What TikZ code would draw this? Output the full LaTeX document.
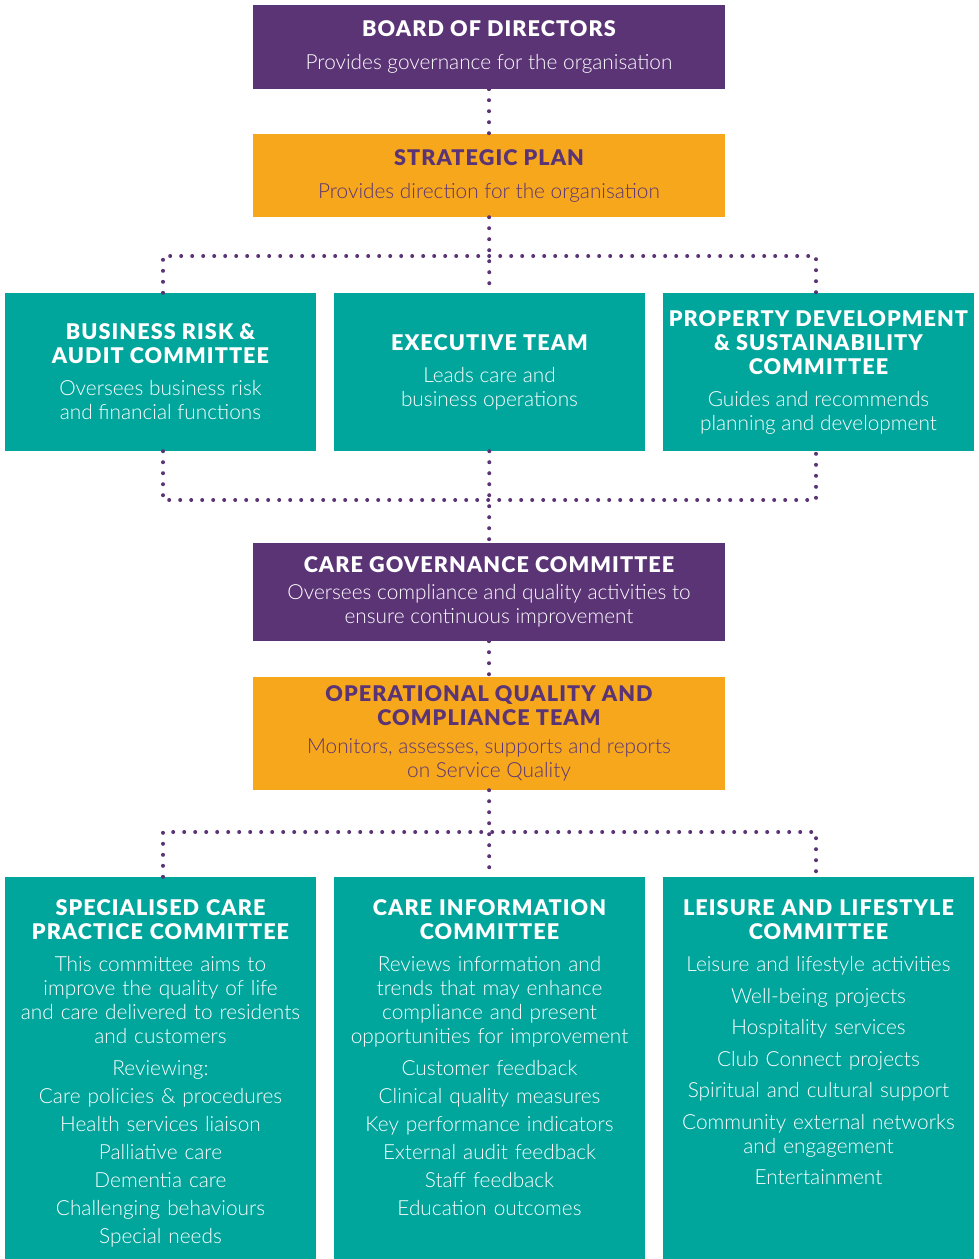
\documentclass[tikz,border=0pt]{standalone}
\usepackage{fontspec}
\setmainfont{Lato Light}
\newfontfamily\headfont{Lato Black}[LetterSpace=5]
\usetikzlibrary{positioning}

\definecolor{cgpurple}{RGB}{91,52,118}
\definecolor{cgorange}{RGB}{246,167,28}
\definecolor{cgteal}{RGB}{0,166,156}

\newcommand*{\hd}[1]{{\headfont\fontsize{21.6}{24}\selectfont #1}}

\begin{document}
\begin{tikzpicture}
[
	x=1pt,y=-1pt,
	box/.style={rectangle,inner sep=0pt,align=center,minimum width=472pt,
		font=\fontsize{20.8}{24}\selectfont},
	purplebox/.style={box,fill=cgpurple,text=white},
	orangebox/.style={box,fill=cgorange,text=cgpurple},
	tealbox/.style={box,fill=cgteal,text=white,minimum width=311pt},
	listtext/.style={align=center,inner sep=0pt,text=white,text width=305pt,
		font=\fontsize{20.8}{24}\selectfont},
	dotline/.style={cgpurple,line width=4pt,line cap=round,dash pattern=on 0pt off 11pt}
]
	\useasboundingbox (0,0) rectangle (978,1259);

	% top of the chart
	\node[purplebox,minimum height=84pt] (board) at (489,47)
		{\hd{BOARD OF DIRECTORS}\\[9pt]Provides governance for the organisation};
	\node[orangebox,minimum height=83pt] (plan) at (489,175.5)
		{\hd{STRATEGIC PLAN}\\[9pt]Provides direction for the organisation};

	% committees under the plan
	\node[tealbox,minimum height=158pt] (risk) at (160.5,372)
		{\hd{BUSINESS RISK \&}\\\hd{AUDIT COMMITTEE}\\[8pt]Oversees business risk\\and financial functions};
	\node[tealbox,minimum height=158pt] (exec) at (489.5,372)
		{\hd{EXECUTIVE TEAM}\\[8pt]Leads care and\\business operations};
	\node[tealbox,minimum height=158pt] (property) at (818.5,372)
		{\hd{PROPERTY DEVELOPMENT}\\\hd{\& SUSTAINABILITY}\\\hd{COMMITTEE}\\[8pt]Guides and recommends\\planning and development};

	% care governance
	\node[purplebox,minimum height=98pt] (caregov) at (489,592)
		{\hd{CARE GOVERNANCE COMMITTEE}\\[3pt]Oversees compliance and quality activities to\\ensure continuous improvement};
	\node[orangebox,minimum height=113pt] (operational) at (489,733.5)
		{\hd{OPERATIONAL QUALITY AND}\\\hd{COMPLIANCE TEAM}\\[4pt]Monitors, assesses, supports and reports\\on Service Quality};

	% bottom committees
	\node[tealbox,minimum height=382pt] (specialised) at (160.5,1068) {};
	\node[tealbox,minimum height=382pt] (information) at (489.5,1068) {};
	\node[tealbox,minimum height=382pt] (leisure) at (818.5,1068) {};

	\node[listtext,anchor=north] (specialisedtext) at ([yshift=-23pt]specialised.north)
		{\hd{SPECIALISED CARE}\\\hd{PRACTICE COMMITTEE}\\[8pt]
		This committee aims to\\improve the quality of life\\and care delivered to residents\\and customers\\[8pt]
		Reviewing:\\[4pt]Care policies \& procedures\\[4pt]Health services liaison\\[4pt]
		Palliative care\\[4pt]Dementia care\\[4pt]Challenging behaviours\\[4pt]Special needs};
	\node[listtext,anchor=north] (informationtext) at ([yshift=-23pt]information.north)
		{\hd{CARE INFORMATION}\\\hd{COMMITTEE}\\[8pt]
		Reviews information and\\trends that may enhance\\compliance and present\\opportunities for improvement\\[8pt]
		Customer feedback\\[4pt]Clinical quality measures\\[4pt]Key performance indicators\\[4pt]
		External audit feedback\\[4pt]Staff feedback\\[4pt]Education outcomes};
	\node[listtext,anchor=north] (leisuretext) at ([yshift=-23pt]leisure.north)
		{\hd{LEISURE AND LIFESTYLE}\\\hd{COMMITTEE}\\[8pt]
		Leisure and lifestyle activities\\[7.5pt]Well-being projects\\[7.5pt]Hospitality services\\[7.5pt]
		Club Connect projects\\[7.5pt]Spiritual and cultural support\\[7.5pt]
		Community external networks\\and engagement\\[7.5pt]Entertainment};

	% dotted connectors
	\coordinate (topbus) at (489,256);
	\coordinate (midbus) at (489,500);
	\coordinate (lowbus) at (489,832);
	\draw[dotline] (board) -- (plan);
	\draw[dotline] (plan) -- (exec);
	\draw[dotline] ([xshift=2.5pt]risk.north) |- (topbus) -| ([xshift=-2.5pt]property.north);
	\draw[dotline] ([xshift=2.5pt]risk.south) |- (midbus) -| ([xshift=-2.5pt]property.south);
	\draw[dotline] (exec) -- (caregov);
	\draw[dotline] (caregov) -- (operational);
	\draw[dotline] (operational) -- (information);
	\draw[dotline] ([xshift=2.5pt]specialised.north) |- (lowbus) -| ([xshift=-2.5pt]leisure.north);

\end{tikzpicture}
\end{document}
